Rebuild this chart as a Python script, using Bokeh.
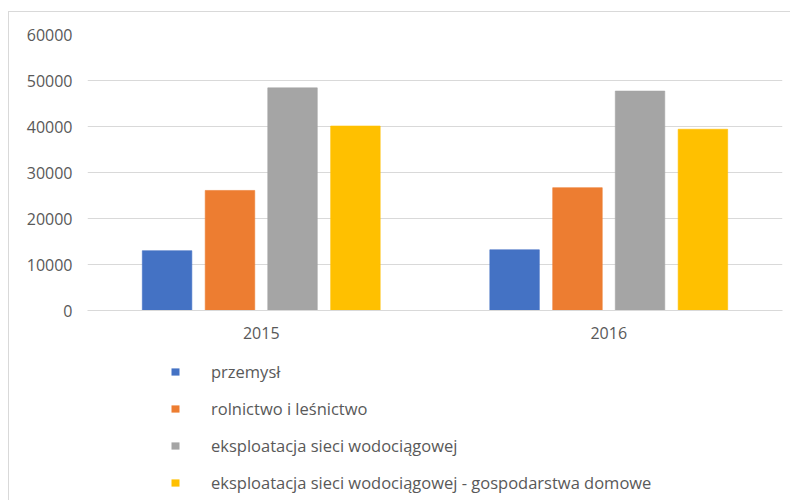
from bokeh.plotting import figure
from bokeh.layouts import column
from bokeh.models import ColumnDataSource, FactorRange, Legend, LegendItem, FixedTicker, NumeralTickFormatter
from bokeh.transform import dodge
from bokeh.embed import file_html
from bokeh.resources import INLINE

years = ["2015", "2016"]
przemysl = [13000, 13200]
rolnictwo = [26100, 26700]
siec = [48400, 47700]
gospodarstwa = [40100, 39400]

series_names = [
    "przemysł",
    "rolnictwo i leśnictwo",
    "eksploatacja sieci wodociągowej",
    "eksploatacja sieci wodociągowej - gospodarstwa domowe",
]
colors = ["#4472C4", "#ED7D31", "#A5A5A5", "#FFC000"]
y_ticks = [0, 10000, 20000, 30000, 40000, 50000, 60000]

source = ColumnDataSource(dict(year=years, s0=przemysl, s1=rolnictwo, s2=siec, s3=gospodarstwa))

FONT = "Open Sans"
TXT = "#595959"
offsets = [-0.271, -0.090, 0.090, 0.271]

p = figure(x_range=FactorRange(*years, range_padding=0), y_range=(0, 60000),
           width=781, height=344, output_backend="svg", toolbar_location=None,
           min_border_left=78, min_border_right=8, min_border_top=22, min_border_bottom=46)
p.outline_line_color = None

for i, (off, col) in enumerate(zip(offsets, colors)):
    p.vbar(x=dodge("year", off, range=p.x_range), top="s%d" % i, width=0.1425,
           source=source, fill_color=col, line_color=col, line_alpha=0.6)

p.yaxis.ticker = FixedTicker(ticks=y_ticks)
p.yaxis.formatter = NumeralTickFormatter(format="0")
p.yaxis.axis_line_color = None
p.yaxis.major_tick_line_color = None
p.yaxis.minor_tick_line_color = None
p.yaxis.major_label_standoff = 9
p.yaxis.major_label_text_font = FONT
p.yaxis.major_label_text_font_size = "16px"
p.yaxis.major_label_text_color = TXT

p.xaxis.axis_line_color = "#d9d9d9"
p.xaxis.major_tick_line_color = None
p.xaxis.minor_tick_line_color = None
p.xaxis.major_label_standoff = 10
p.xaxis.major_label_text_font = FONT
p.xaxis.major_label_text_font_size = "16px"
p.xaxis.major_label_text_color = TXT

p.xgrid.grid_line_color = None
p.ygrid.grid_line_color = "#d9d9d9"
p.ygrid.ticker = FixedTicker(ticks=y_ticks)

# legend panel (separate figure below the chart)
lp = figure(x_range=FactorRange(*years), y_range=(0, 60000),
            width=781, height=144, output_backend="svg", toolbar_location=None,
            min_border=0, min_border_left=0, min_border_right=0, min_border_top=0, min_border_bottom=0)
lp.axis.visible = False
lp.grid.visible = False
lp.outline_line_color = None
lrs = []
for i, (off, col) in enumerate(zip(offsets, colors)):
    r = lp.vbar(x=dodge("year", off, range=lp.x_range), top="s%d" % i, width=0.1425,
                source=source, fill_color=col, line_color=None)
    r.visible = False
    lrs.append(r)

legend = Legend(items=[LegendItem(label=n, renderers=[r]) for n, r in zip(series_names, lrs)],
                location=(83, 6), orientation="vertical",
                glyph_width=10, glyph_height=9, label_standoff=31, spacing=14,
                label_height=20, padding=0, margin=0,
                border_line_color=None, background_fill_alpha=0,
                label_text_font=FONT, label_text_font_size="16.5px", label_text_color=TXT)
lp.add_layout(legend, "center")

layout = column(p, lp, spacing=0,
                styles={"border-left": "1px solid #d9d9d9", "border-top": "1px solid #d9d9d9",
                        "margin-top": "11px", "margin-left": "8px"})

open("out.html", "w").write(file_html(layout, INLINE))
